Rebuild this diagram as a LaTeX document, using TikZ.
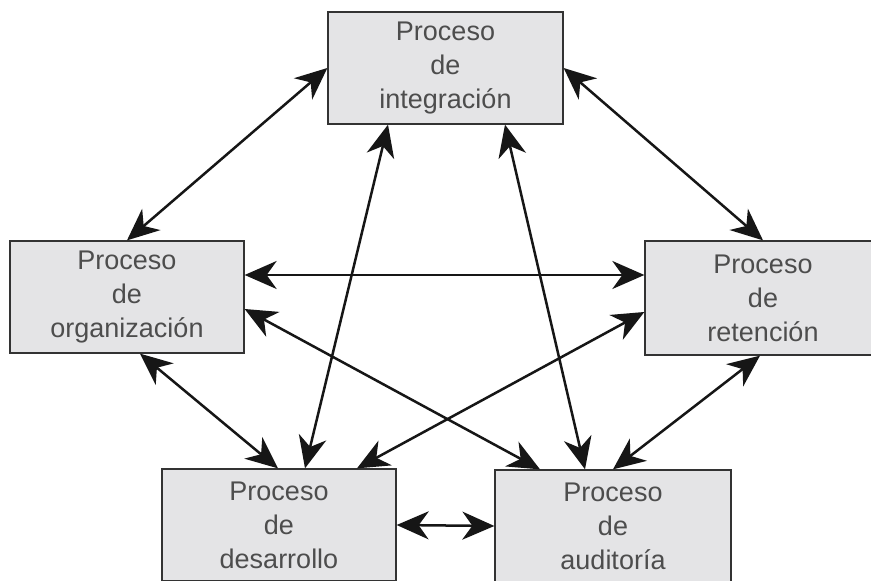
\documentclass[tikz,border=0pt]{standalone}
\usepackage{fontspec}
\setmainfont{Liberation Sans}
\usetikzlibrary{arrows.meta}
\definecolor{boxfill}{HTML}{E4E4E6}
\definecolor{boxline}{HTML}{333333}
\definecolor{txt}{HTML}{4D4D4D}
\definecolor{arrcol}{HTML}{161616}
\begin{document}
\begin{tikzpicture}[x=1pt,y=1pt,
  procbox/.style={draw=boxline, fill=boxfill, line width=1.3pt, minimum width=235pt, minimum height=112pt, inner sep=0pt, align=center, text=txt, font=\fontsize{27}{34}\selectfont},
  biarrow/.style={draw=arrcol, line width=2.5pt, {Stealth[length=32pt,width=28pt,inset=10pt]}-{Stealth[length=32pt,width=28pt,inset=10pt]}}
]
\useasboundingbox (0,0) rectangle (871,581);
\clip (0,0) rectangle (871,581);
\fill[white] (0,0) rectangle (871,581);
\node[procbox] (top) at (445.5,513) {Proceso\\de\\integración};
\node[procbox, minimum width=234pt] (left) at (127,284) {Proceso\\de\\organización};
\node[procbox, minimum width=236pt, minimum height=114pt] (right) at (763,283) {Proceso\\de\\retención};
\node[procbox, minimum width=234pt] (bl) at (279,56) {Proceso\\de\\desarrollo};
\node[procbox, minimum width=236pt] (br) at (613,55) {Proceso\\de\\auditoría};
\draw[biarrow] (top.west) -- (left.north);
\draw[biarrow] (top.east) -- (right.north);
\draw[biarrow] ([xshift=-57.5pt]top.south) -- ([xshift=26pt]bl.north);
\draw[biarrow] ([xshift=59.5pt]top.south) -- ([xshift=-28pt]br.north);
\draw[biarrow] ([yshift=22pt]left.east) -- ([yshift=23pt]right.west);
\draw[biarrow] ([yshift=-12pt]left.east) -- ([xshift=-73pt]br.north);
\draw[biarrow] ([yshift=-14pt]right.west) -- ([xshift=78pt]bl.north);
\draw[biarrow] ([xshift=13pt]left.south) -- ([xshift=-1pt]bl.north);
\draw[biarrow] ([xshift=-3pt]right.south) -- (br.north);
\draw[biarrow] (bl.east) -- (br.west);
\end{tikzpicture}
\end{document}
